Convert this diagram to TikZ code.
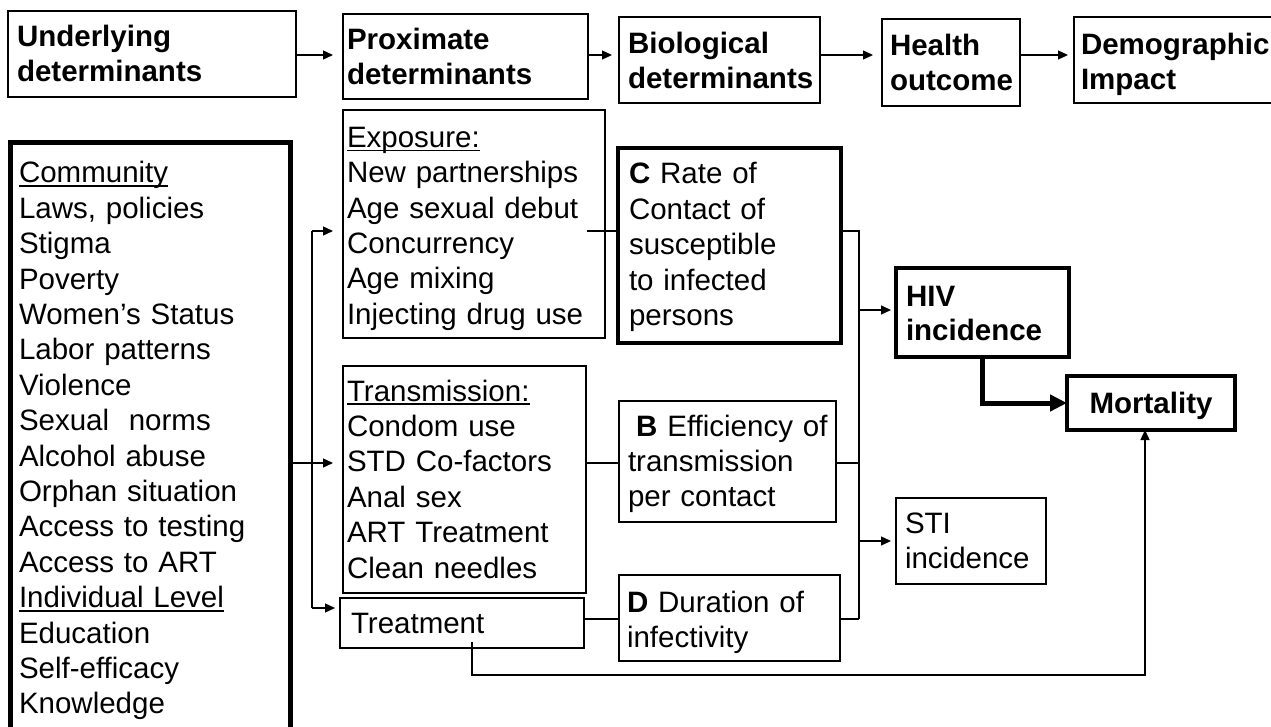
\documentclass[tikz,border=0pt]{standalone}
\usepackage{fontspec}
\setmainfont{Liberation Sans}
\usetikzlibrary{arrows.meta,calc}
\newcommand{\myul}[1]{\leavevmode\setbox0\hbox{#1}\rlap{\rule[-3.8pt]{\wd0}{1.6pt}}\box0}
\begin{document}
\begin{tikzpicture}[x=1pt,y=-1pt,
  box/.style={draw=black, line width=1.2pt, inner sep=0pt, outer sep=0pt, anchor=north west},
  thickbox/.style={box, line width=4pt},
  leftbox/.style={box, line width=5pt},
  txt/.style={inner sep=0pt, outer sep=0pt, anchor=base west, align=left, text width=#1,
              font=\fontsize{29.5}{35.4}\selectfont},
  hdr/.style={txt=#1, font=\bfseries\fontsize{29.5}{34.5}\selectfont},
  conn/.style={line width=1.3pt},
  arr/.style={conn, -{Triangle[length=10pt,width=9pt]}},
  bigarr/.style={line width=5pt, -{Triangle[length=17pt,width=16pt]}}
]
\useasboundingbox (0,0) rectangle (1271,727);
\fill[white] (0,0) rectangle (1271,727);
\clip (0,0) rectangle (1271,727);

% ---------- top row ----------
\node[box, minimum width=288pt, minimum height=86pt] (und) at (8,11) {};
\node[box, minimum width=245pt, minimum height=85pt] (prox) at (343,14) {};
\node[box, minimum width=201pt, minimum height=86pt] (bio) at (619,17) {};
\node[box, minimum width=138pt, minimum height=87pt] (health) at (882,19) {};
\node[box, minimum width=215pt, minimum height=86pt] (demo) at (1074,17) {};

\node[hdr=270pt] (und-t) at (17,47) {Underlying\\determinants};
\node[hdr=235pt] (prox-t) at (347,50) {Proximate\\determinants};
\node[hdr=190pt] (bio-t) at (628,54) {Biological\\determinants};
\node[hdr=128pt] (health-t) at (890,56) {Health\\outcome};
\node[hdr=185pt] (demo-t) at (1081,55) {Demographic\\Impact};

\coordinate (toprow) at (0,55);
\draw[arr, shorten >=10pt] (und.east |- toprow) -- (prox.west |- toprow);
\draw[arr, shorten >=7pt] (prox.east |- toprow) -- (bio.west |- toprow);
\draw[arr, shorten >=9pt] (bio.east |- toprow) -- (health.west |- toprow);
\draw[arr, shorten >=6pt] (health.east |- toprow) -- (demo.west |- toprow);

% ---------- boxes ----------
\node[leftbox, minimum width=280pt, minimum height=600pt] (left) at (10,143) {};
\node[box, minimum width=262pt, minimum height=228pt] (exp) at (343,110) {};
\node[thickbox, minimum width=223pt, minimum height=195pt] (C) at (618,148) {};
\node[box, minimum width=243pt, minimum height=227pt] (trans) at (343,366) {};
\node[box, minimum width=217pt, minimum height=121pt] (B) at (619,401) {};
\node[box, minimum width=244pt, minimum height=50pt] (treat) at (340,598) {};
\node[box, minimum width=221pt, minimum height=86pt] (D) at (619,575) {};
\node[thickbox, minimum width=173pt, minimum height=89pt] (HIV) at (896,268) {};
\node[box, minimum width=150pt, minimum height=86pt] (STI) at (896,498) {};
\node[thickbox, minimum width=168pt, minimum height=54pt] (mort) at (1067,376) {};

% ---------- texts ----------
\node[txt=265pt] (left-t) at (19,183) {\myul{Community}\\Laws, policies\\Stigma\\Poverty\\Women’s Status\\Labor patterns\\Violence\\Sexual\ \ norms\\Alcohol abuse\\Orphan situation\\Access to testing\\Access to ART\\\myul{Individual Level}\\Education\\Self-efficacy\\Knowledge};
\node[txt=250pt] (exp-t) at (347,147.4) {\myul{Exposure:}\\New partnerships\\Age sexual debut\\Concurrency\\Age mixing\\Injecting drug use};
\node[txt=205pt] (C-t) at (629,184) {\textbf{C} Rate of\\Contact of\\susceptible\\to infected\\persons};
\node[txt=235pt] (trans-t) at (347,401) {\myul{Transmission:}\\Condom use\\STD Co-factors\\Anal sex\\ART Treatment\\Clean needles};
\node[txt=205pt] (B-t) at (628,436) {\hspace*{8.2pt}\textbf{B} Efficiency of\\transmission\\per contact};
\node[txt=225pt] (treat-t) at (351,633) {Treatment};
\node[txt=208pt] (D-t) at (627,612) {\textbf{D} Duration of\\infectivity};
\node[hdr=160pt] (HIV-t) at (906,306) {HIV\\incidence};
\node[txt=138pt] (STI-t) at (905,533) {STI\\incidence};
\node[inner sep=0pt, anchor=base, font=\bfseries\fontsize{29.5}{34.5}\selectfont] (mort-t) at (1151,413) {Mortality};

% ---------- connectors ----------
\coordinate (fanT) at (312,231);
\coordinate (fanB) at (312,608);
\draw[conn] (fanT) -- (fanB);
\draw[arr, shorten >=10pt] (fanT) -- (fanT -| exp.west);
\draw[arr, shorten >=5pt] (fanB) -- (fanB -| treat.west);
\coordinate (trow) at (0,463);
\draw[arr, shorten >=10pt] ([xshift=2.5pt]left.east |- trow) -- (trans.west |- trow);

\coordinate (busT) at (859,231);
\coordinate (busB) at (859,619);
\draw[conn] ([xshift=-18pt]exp.east |- busT) -- (C.west |- busT);
\draw[conn] (C.east |- busT) -- (busT) -- (busB);
\draw[conn] ([xshift=1pt]trans.east |- trow) -- (B.west |- trow);
\draw[conn] (B.east |- trow) -- (busT |- trow);
\draw[conn] (treat.east |- busB) -- (D.west |- busB);
\draw[conn] (D.east |- busB) -- (busB);
\coordinate (hivrow) at (0,310);
\draw[arr, shorten >=5pt] (busT |- hivrow) -- (HIV.west |- hivrow);
\draw[arr, shorten >=5pt] (busT |- STI.west) -- (STI.west);

\draw[bigarr] (HIV.south) |- (mort.west);

\coordinate (tm1) at (472,642);
\coordinate (tm2) at (1145,675);
\draw[arr] (tm1) |- (tm2) -- (tm2 |- mort.south);
\end{tikzpicture}
\end{document}
